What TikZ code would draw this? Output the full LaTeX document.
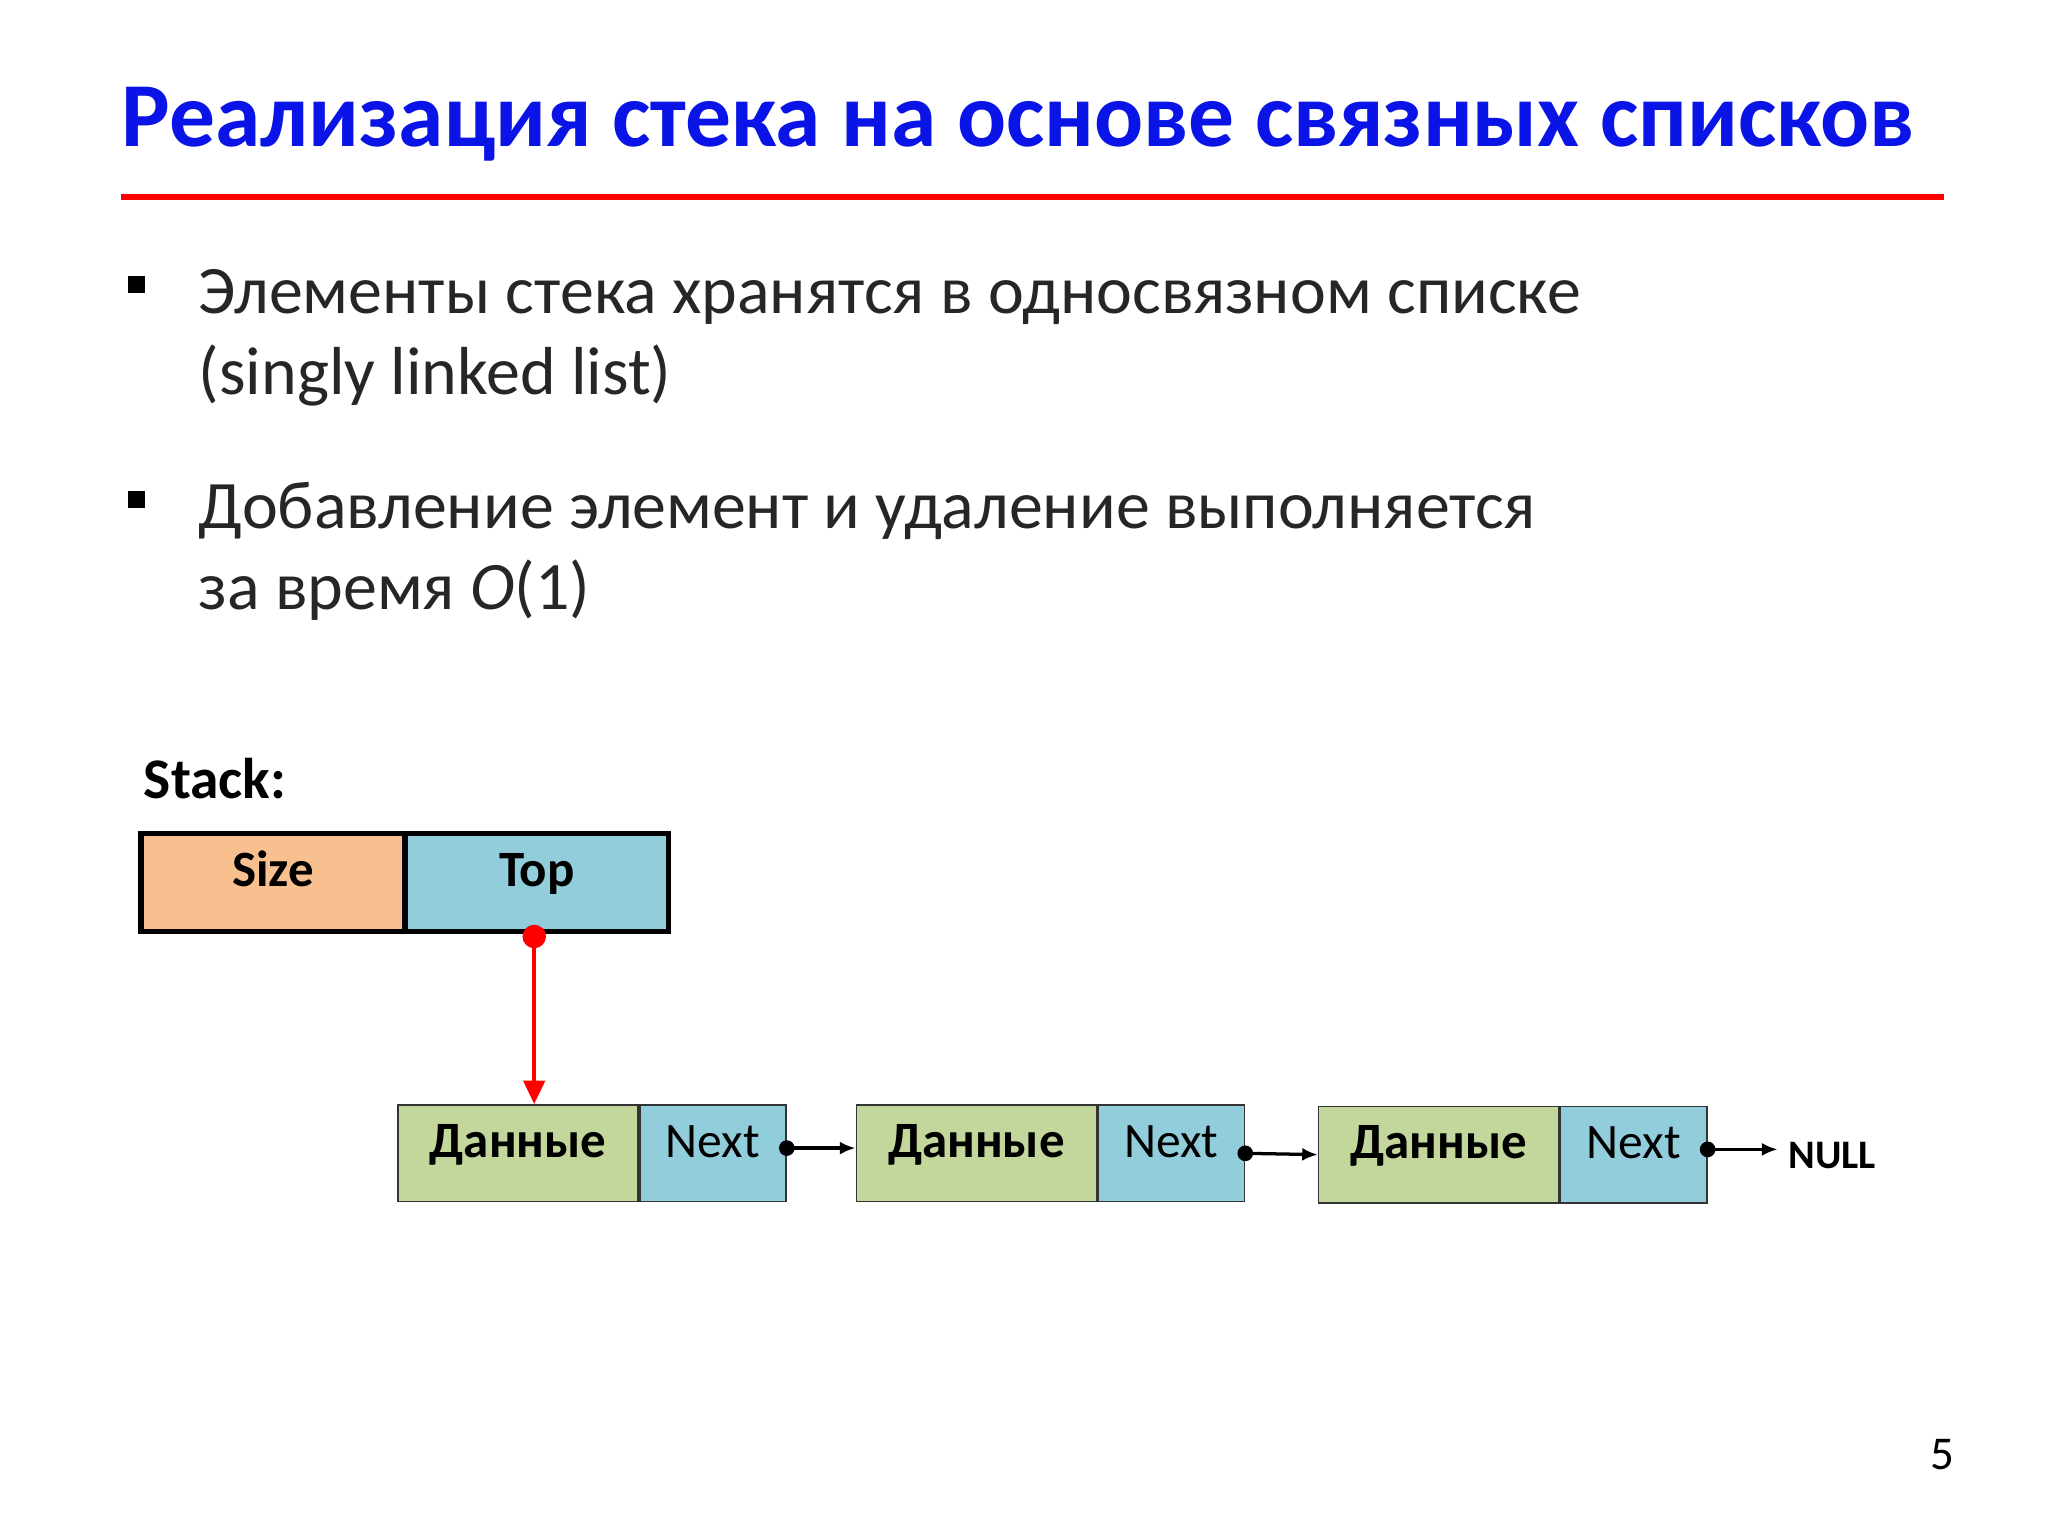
\documentclass[tikz,border=0pt]{standalone}
\usepackage{fontspec}
\setmainfont{Carlito}
\usetikzlibrary{arrows.meta}
\definecolor{tblue}{HTML}{0A14E6}
\definecolor{sizec}{HTML}{F8C08F}
\definecolor{topc}{HTML}{92CDDC}
\definecolor{datac}{HTML}{C3D69B}
\begin{document}
\begin{tikzpicture}[x=1pt,y=-1pt,
  boxtext/.style={text height=0.62em,text depth=0pt},
  sbox/.style={draw=black,line width=4pt,minimum height=75pt,inner sep=0pt,boxtext,font=\fontsize{39}{44}\selectfont\bfseries},
  dbox/.style={draw=black!80,line width=1.2pt,minimum height=74pt,minimum width=184pt,inner sep=0pt,fill=datac,boxtext,font=\fontsize{39}{44}\selectfont\bfseries},
  nbox/.style={draw=black!80,line width=1.2pt,minimum height=74pt,minimum width=112pt,inner sep=0pt,fill=topc,boxtext,font=\fontsize{38}{44}\selectfont},
  link/.style={line width=2.5pt,-{Latex[length=12pt,width=10pt]}},
  btxt/.style={anchor=base west,inner sep=0pt,font=\fontsize{52}{60}\selectfont,text=black!85}]
\useasboundingbox (0,0) rectangle (1568,1176);
\fill[white] (0,0) rectangle (1568,1176);
\node[anchor=base west,inner sep=0pt,text=tblue,font=\fontsize{70}{80}\selectfont\bfseries] (title) at (93,112) {Реализация стека на основе связных списков};
\draw[red,line width=5pt] (93,151) -- (1488,151);
\fill (98,211) rectangle (111,224);
\node[btxt] (b1) at (152,240) {Элементы стека хранятся в односвязном списке};
\node[btxt] (b1b) at (152,302) {(singly linked list)};
\fill (98,376) rectangle (111,389);
\node[btxt] (b2) at (152,405) {Добавление элемент и удаление выполняется};
\node[btxt] (b2b) at (152,467) {за время \textit{O}(1)};
\node[anchor=base west,inner sep=0pt,font=\fontsize{44}{50}\selectfont\bfseries] (stk) at (110,611) {Stack:};
\node[sbox,fill=sizec,minimum width=202pt,anchor=west] (size) at (106,675.5) {Size};
\node[sbox,fill=topc,minimum width=202pt,anchor=west] (top) at (308,675.5) {Top};
\node[dbox,anchor=west] (d1) at (304,883) {Данные};
\node[nbox,anchor=west] (n1) at (d1.east) {Next};
\node[dbox,anchor=west] (d2) at (655,883) {Данные};
\node[nbox,anchor=west] (n2) at (d2.east) {Next};
\node[dbox,anchor=west] (d3) at (1009,884) {Данные};
\node[nbox,anchor=west] (n3) at (d3.east) {Next};
\node[anchor=west,inner sep=0pt,font=\fontsize{31}{36}\selectfont\bfseries] (null) at (1369,885) {NULL};
\coordinate (tp) at (409,717);
\fill[red] (tp) circle (9pt);
\draw[red,line width=3.5pt,-{Triangle[length=18pt,width=16pt]}] (tp) -- (d1.north -| tp);
\coordinate (p1) at ([yshift=4pt]n1.east);
\coordinate (p2) at (n2.east);
\coordinate (p3) at ([yshift=4pt]n3.east);
\coordinate (nl) at ([xshift=-8pt]null.west);
\fill (p1) circle (6pt);
\draw[link] (p1) -- (p1 -| d2.west);
\fill (p2) circle (6pt);
\draw[link] (p2) -- (d3.west);
\fill (p3) circle (6pt);
\draw[link] (p3) -- (p3 -| nl);
\node[anchor=base,inner sep=0pt,font=\fontsize{36}{40}\selectfont] (pg) at (1487,1125) {5};
\end{tikzpicture}
\end{document}
